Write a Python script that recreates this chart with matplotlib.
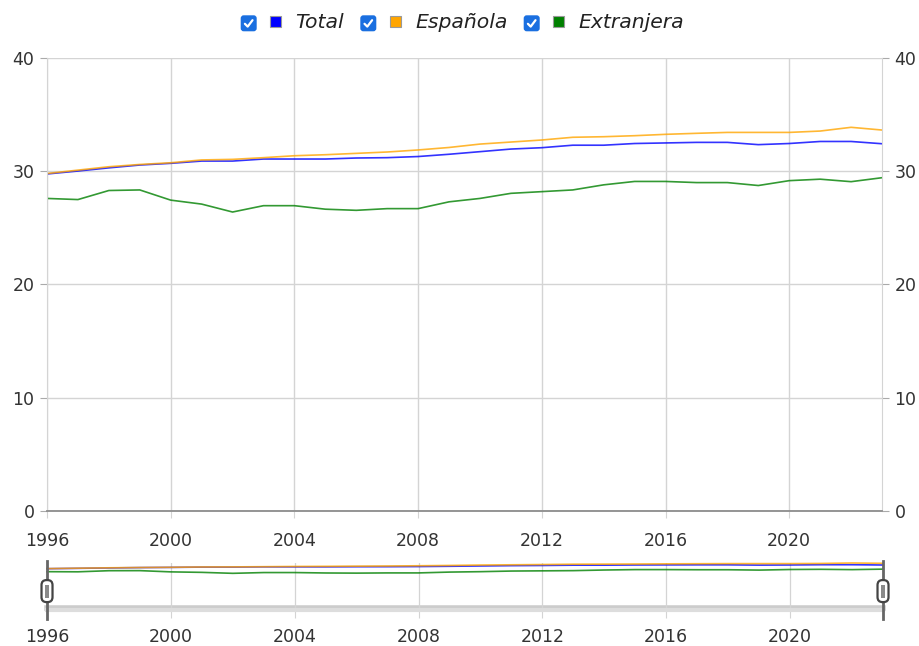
import matplotlib.pyplot as plt
import matplotlib.transforms as mtransforms
from matplotlib.patches import FancyBboxPatch, Rectangle

# =======================
# datos (edad media, lectura del grafico)
# =======================
anios = list(range(1996, 2024))
total = [29.76, 30.02, 30.3, 30.55, 30.7, 30.9, 30.9, 31.08, 31.08, 31.08, 31.17, 31.2, 31.3, 31.5,
         31.73, 31.96, 32.08, 32.3, 32.3, 32.45, 32.5, 32.55, 32.55, 32.35, 32.45, 32.63, 32.63, 32.43]
espanola = [29.8, 30.1, 30.4, 30.6, 30.75, 31.0, 31.05, 31.2, 31.37, 31.46, 31.58, 31.7, 31.88, 32.1,
            32.4, 32.58, 32.76, 33.0, 33.05, 33.14, 33.26, 33.35, 33.43, 33.43, 33.43, 33.55, 33.88, 33.64]
extranjera = [27.6, 27.5, 28.3, 28.35, 27.45, 27.1, 26.4, 26.96, 26.96, 26.65, 26.55, 26.7, 26.7, 27.3,
              27.6, 28.05, 28.2, 28.35, 28.8, 29.1, 29.1, 29.0, 29.0, 28.74, 29.17, 29.3, 29.08, 29.43]

series = [('Total', total, '#0000ff'),
          ('Española', espanola, '#ffa500'),
          ('Extranjera', extranjera, '#008000')]

xticks = list(range(1996, 2024, 4))
yticks = [0, 10, 20, 30, 40]

texto = '#333333'
rejilla = '#d4d4d4'

fig = plt.figure(figsize=(9.2, 6.46), dpi=100)

# =======================
# grafico principal
# =======================
ax = fig.add_axes([0.0511, 0.2090, 0.9076, 0.7012])
for nombre, valores, color in series:
    ax.plot(anios, valores, color=color, lw=1.2, alpha=0.8, solid_capstyle='round')
ax.set_xlim(anios[0], anios[-1])
ax.set_ylim(0, 40)
ax.set_xticks(xticks)
ax.set_yticks(yticks)
ax.grid(True, color=rejilla, lw=1)
ax.set_axisbelow(True)
for lado in ['left', 'right', 'top']:
    ax.spines[lado].set_color(rejilla)
ax.spines['top'].set_visible(False)
ax.spines['bottom'].set_color('#8c8c8c')
ax.spines['bottom'].set_linewidth(1.3)
ax.tick_params(axis='y', left=True, right=True, labelleft=True, labelright=True,
               length=5, pad=4, color='#aaaaaa', labelsize=12.5, labelcolor=texto)
ax.tick_params(axis='x', length=5, pad=10, color=rejilla, labelsize=12.5, labelcolor=texto)

# =======================
# navegador inferior
# =======================
nav = fig.add_axes([0.0511, 0.0560, 0.9087, 0.0725])
nav.axhline(1, color='#cccccc', lw=4, zorder=1, clip_on=False)
for nombre, valores, color in series:
    nav.plot(anios, valores, color=color, lw=1.2, alpha=0.8, zorder=2, clip_on=False)
nav.set_xlim(anios[0], anios[-1])
nav.set_ylim(0, max(espanola))
nav.set_xticks(xticks)
nav.set_yticks([])
nav.grid(True, axis='x', color=rejilla, lw=0.9)
for lado in ['left', 'right', 'top']:
    nav.spines[lado].set_visible(False)
nav.spines['bottom'].set_color('#dddddd')
nav.spines['bottom'].set_linewidth(3)
nav.tick_params(axis='x', length=6, pad=7, color=rejilla, labelsize=12.5, labelcolor=texto)

# manijas del navegador
mezcla = mtransforms.blended_transform_factory(nav.transData, nav.transAxes)
for x in [anios[0], anios[-1]]:
    nav.axvline(x, ymin=-0.2, ymax=1.05, color='#666666', lw=2, clip_on=False, zorder=3)
    tr = fig.dpi_scale_trans + mtransforms.ScaledTranslation(x, 0.4, mezcla)
    fig.patches.append(FancyBboxPatch((-0.04, -0.095), 0.08, 0.19,
                                      boxstyle='round,pad=0.015,rounding_size=0.05',
                                      transform=tr, facecolor='white', edgecolor='#444444', lw=1.6,
                                      zorder=5))
    fig.patches.append(Rectangle((-0.022, -0.065), 0.044, 0.13, transform=tr,
                                 facecolor='#8a8a8a', edgecolor='none', zorder=6))

# =======================
# leyenda con casillas
# =======================
lax = fig.add_axes([0, 0, 1, 1])
lax.set_xlim(0, 920)
lax.set_ylim(646, 0)
lax.axis('off')
lax.patch.set_alpha(0)

leyenda = [(248.7, 276, 295, 'Total'),
           (368.3, 396, 415, 'Española'),
           (531.7, 559, 578, 'Extranjera')]
for (cx, sx, tx, nombre), (_, _, color) in zip(leyenda, series):
    lax.add_patch(FancyBboxPatch((cx - 6.5, 23.3 - 6.5), 13, 13,
                                 boxstyle='round,pad=1.5,rounding_size=3',
                                 facecolor='#1a6fe0', edgecolor='none'))
    lax.plot([cx - 3.8, cx - 1, cx + 3.8], [23.8, 26.6, 20.2], color='white', lw=1.6,
             solid_capstyle='round', solid_joinstyle='round')
    lax.add_patch(Rectangle((sx - 5.5, 21 - 5.5), 11, 11, facecolor=color, edgecolor='#999999', lw=0.8))
    lax.text(tx, 27.5, nombre, fontsize=14.7, style='italic', color='#222222', va='baseline', ha='left')

fig.savefig('out.png', dpi=100)
